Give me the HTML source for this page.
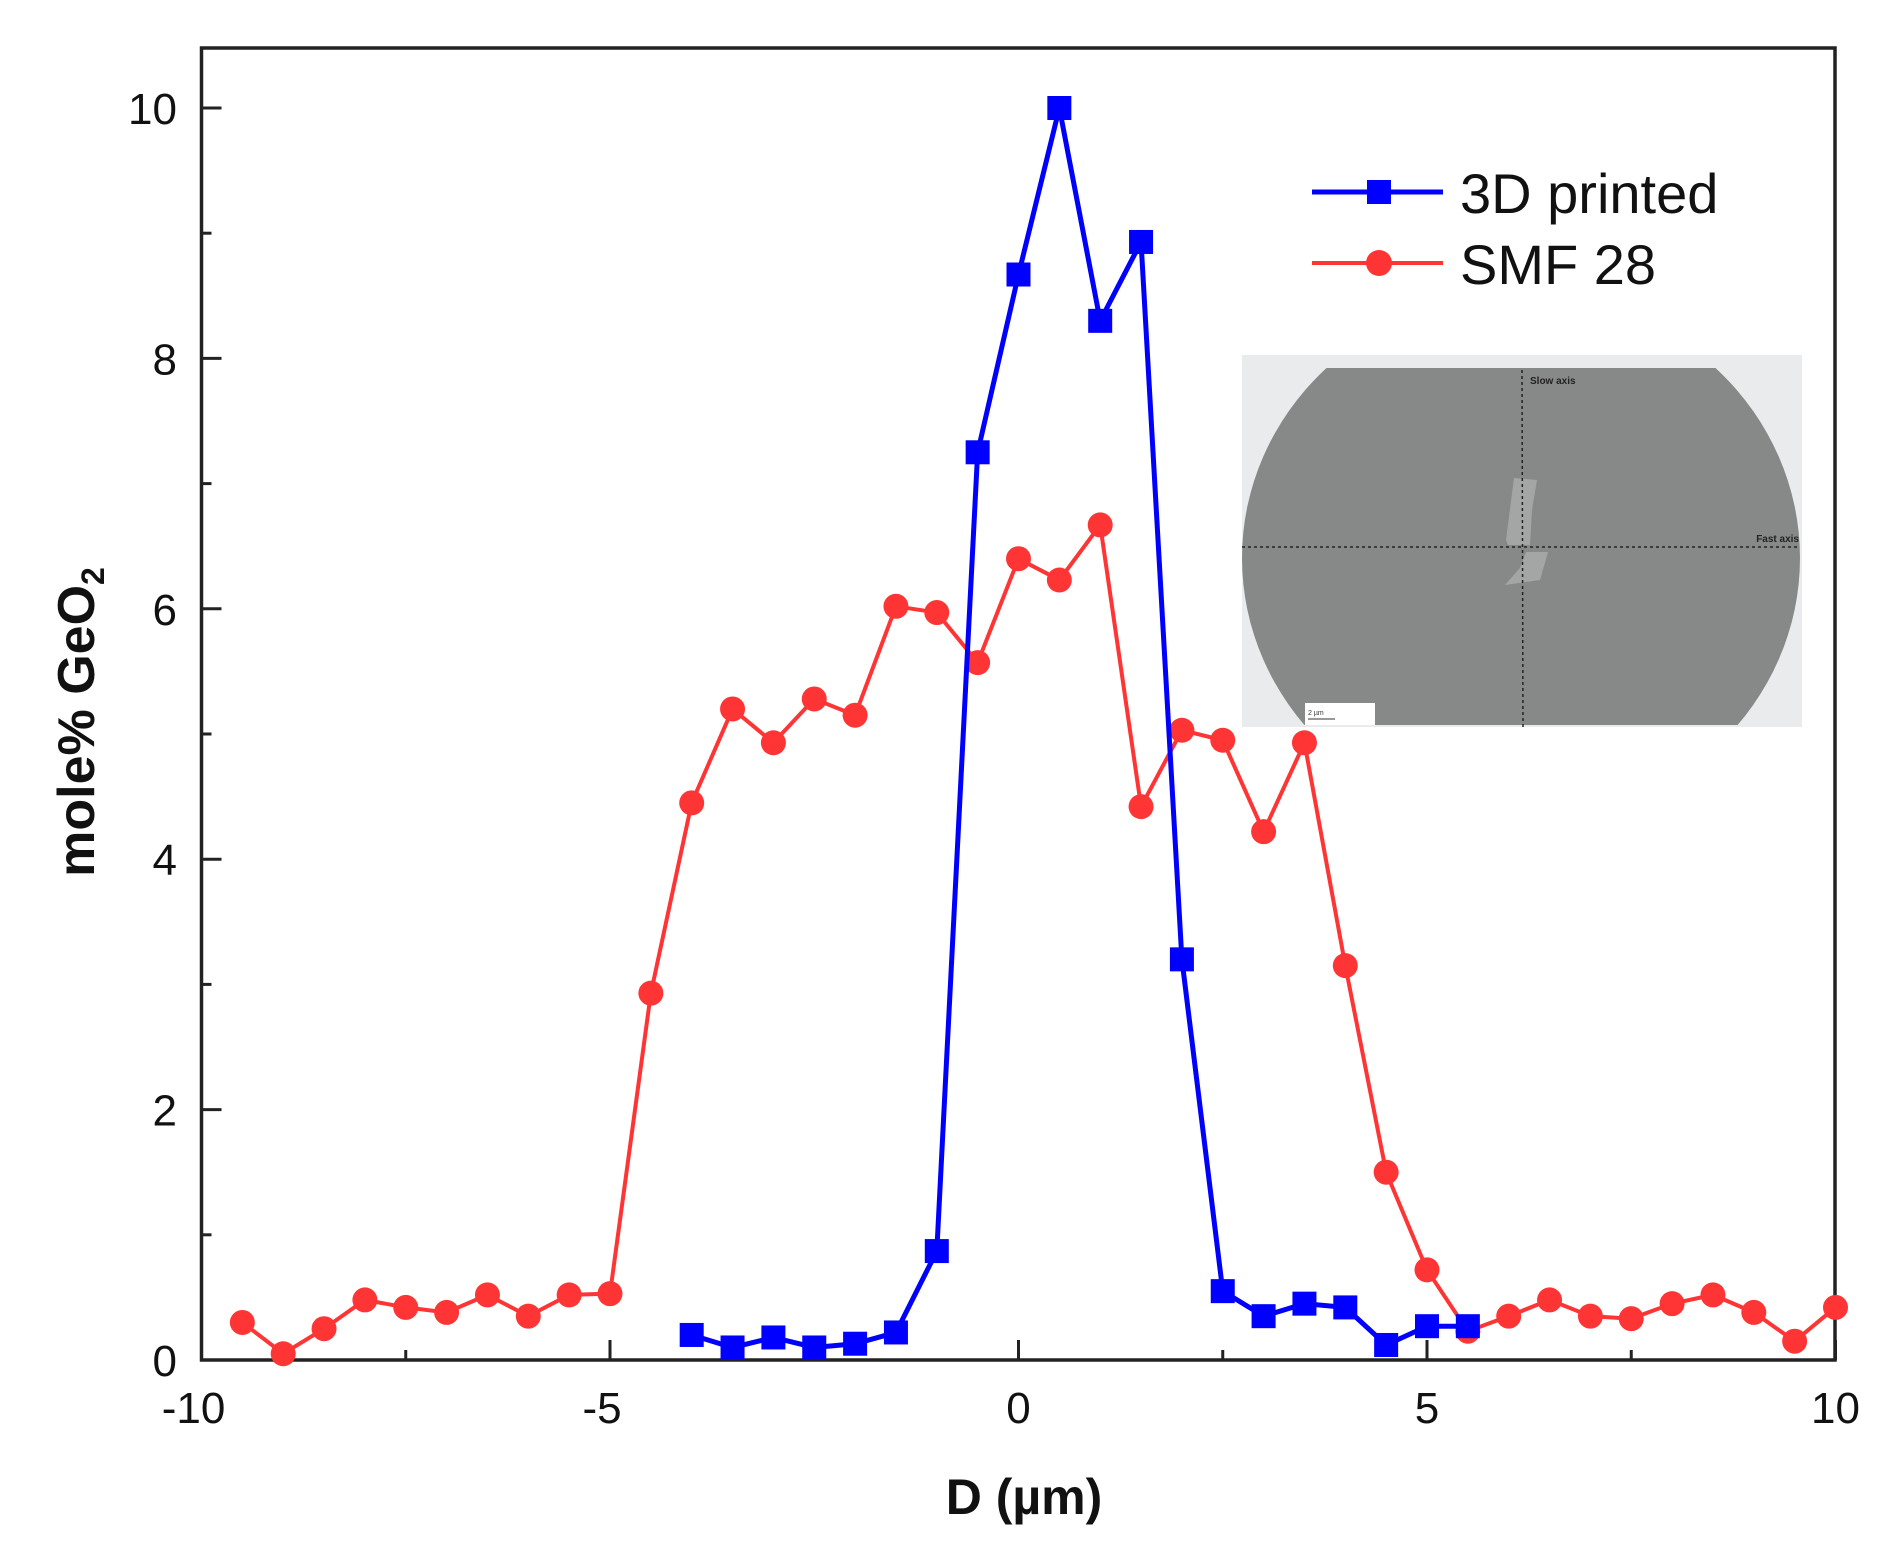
<!DOCTYPE html>
<html><head><meta charset="utf-8"><style>html,body{margin:0;padding:0;background:#fff}svg{display:block}</style></head>
<body>
<svg id="c" width="1884" height="1560" viewBox="0 0 1884 1560" xmlns="http://www.w3.org/2000/svg" font-family="Liberation Sans, Arial, sans-serif">
<rect width="1884" height="1560" fill="#fff"/>
<defs><clipPath id="ic"><rect x="1242" y="368" width="560" height="357"/></clipPath></defs>
<rect x="1242" y="355" width="560" height="372" fill="#e9ebec"/>
<ellipse cx="1521" cy="558" rx="279" ry="265" fill="#878988" clip-path="url(#ic)"/>
<path d="M1514 478 L1537 480 L1532 510 L1530 545 L1508 545 L1506 540 Z M1526 552 L1548 552 L1540 580 L1505 585 L1520 568 Z" fill="#a4a6a5"/>
<line x1="1522" y1="370" x2="1523" y2="727" stroke="#222" stroke-width="1.5" stroke-dasharray="3,3"/>
<line x1="1242" y1="547" x2="1797" y2="547" stroke="#222" stroke-width="1.5" stroke-dasharray="3,3"/>
<text x="1530" y="384" font-size="10" font-weight="bold" fill="#222">Slow axis</text>
<text x="1799" y="542" font-size="10" font-weight="bold" fill="#222" text-anchor="end">Fast axis</text>
<rect x="1305" y="703" width="70" height="22" fill="#fff"/>
<text x="1308" y="715" font-size="7" fill="#333">2 µm</text>
<line x1="1308" y1="719" x2="1335" y2="719" stroke="#333" stroke-width="1"/>
<rect x="201.5" y="48" width="1633.5" height="1312" fill="none" stroke="#222" stroke-width="3.5"/>
<g id="ticks" stroke="#222" stroke-width="3"></g>
<g font-size="44" fill="#111" id="lbl"></g>
<text transform="translate(94,722) rotate(-90)" text-anchor="middle" font-size="52" font-weight="bold" fill="#111">mole% GeO<tspan font-size="32" dy="10">2</tspan></text>
<text x="1024" y="1514" text-anchor="middle" font-size="50" font-weight="bold" fill="#111">D (µm)</text>
<g id="data"></g>
<line x1="1312" y1="192" x2="1443" y2="192" stroke="#0000ff" stroke-width="5"/>
<rect x="1367" y="180" width="24" height="24" fill="#0000ff"/>
<text x="1460" y="213" font-size="56" fill="#111">3D printed</text>
<line x1="1312" y1="263" x2="1443" y2="263" stroke="#ff3535" stroke-width="4"/>
<circle cx="1379" cy="263" r="13" fill="#ff3535"/>
<text x="1460" y="284" font-size="56" fill="#111">SMF 28</text>
</svg>
<script>
const X=x=>1018.5+x*81.7, Y=y=>1360-y*125.2;
const ns="http://www.w3.org/2000/svg";
function el(p,t,a,txt){const e=document.createElementNS(ns,t);for(const k in a)e.setAttribute(k,a[k]);if(txt!=null)e.textContent=txt;p.appendChild(e);return e;}
const tk=document.getElementById('ticks'), lb=document.getElementById('lbl'), dg=document.getElementById('data');
for(let v=0;v<=10;v++){const y=Y(v),L=v%2==0?20:10;el(tk,'line',{x1:201.5,y1:y,x2:201.5+L,y2:y});
 if(v%2==0)el(lb,'text',{x:177,y:y+16,'text-anchor':'end'},String(v));}
for(let v=-10;v<=10;v+=2.5){const x=X(v),L=(v%5==0)?20:10;el(tk,'line',{x1:x,y1:1360,x2:x,y2:1360-L});
 if(v%5==0)el(lb,'text',{x:x+(v<0?-8:0),y:1423,'text-anchor':'middle'},String(v));}
const red=[0.3,0.05,0.25,0.48,0.42,0.38,0.52,0.35,0.52,0.53,2.93,4.45,5.2,4.93,5.28,5.15,6.02,5.97,5.57,6.4,6.23,6.67,4.42,5.03,4.95,4.22,4.93,3.15,1.5,0.72,0.23,0.35,0.48,0.35,0.33,0.45,0.52,0.38,0.15,0.42];
const blue=[0.2,0.1,0.18,0.1,0.13,0.22,0.87,7.25,8.67,10,8.3,8.93,3.2,0.55,0.35,0.45,0.42,0.12,0.27,0.27];
let p='';red.forEach((v,i)=>{p+=(i?'L':'M')+X(-9.5+i*0.5)+' '+Y(v)});
el(dg,'path',{d:p,fill:'none',stroke:'#ff3535','stroke-width':4});
red.forEach((v,i)=>el(dg,'circle',{cx:X(-9.5+i*0.5),cy:Y(v),r:12.5,fill:'#ff3535'}));
p='';blue.forEach((v,i)=>{p+=(i?'L':'M')+X(-4+i*0.5)+' '+Y(v)});
el(dg,'path',{d:p,fill:'none',stroke:'#0000ff','stroke-width':5});
blue.forEach((v,i)=>el(dg,'rect',{x:X(-4+i*0.5)-12,y:Y(v)-12,width:24,height:24,fill:'#0000ff'}));
</script>
</body></html>
